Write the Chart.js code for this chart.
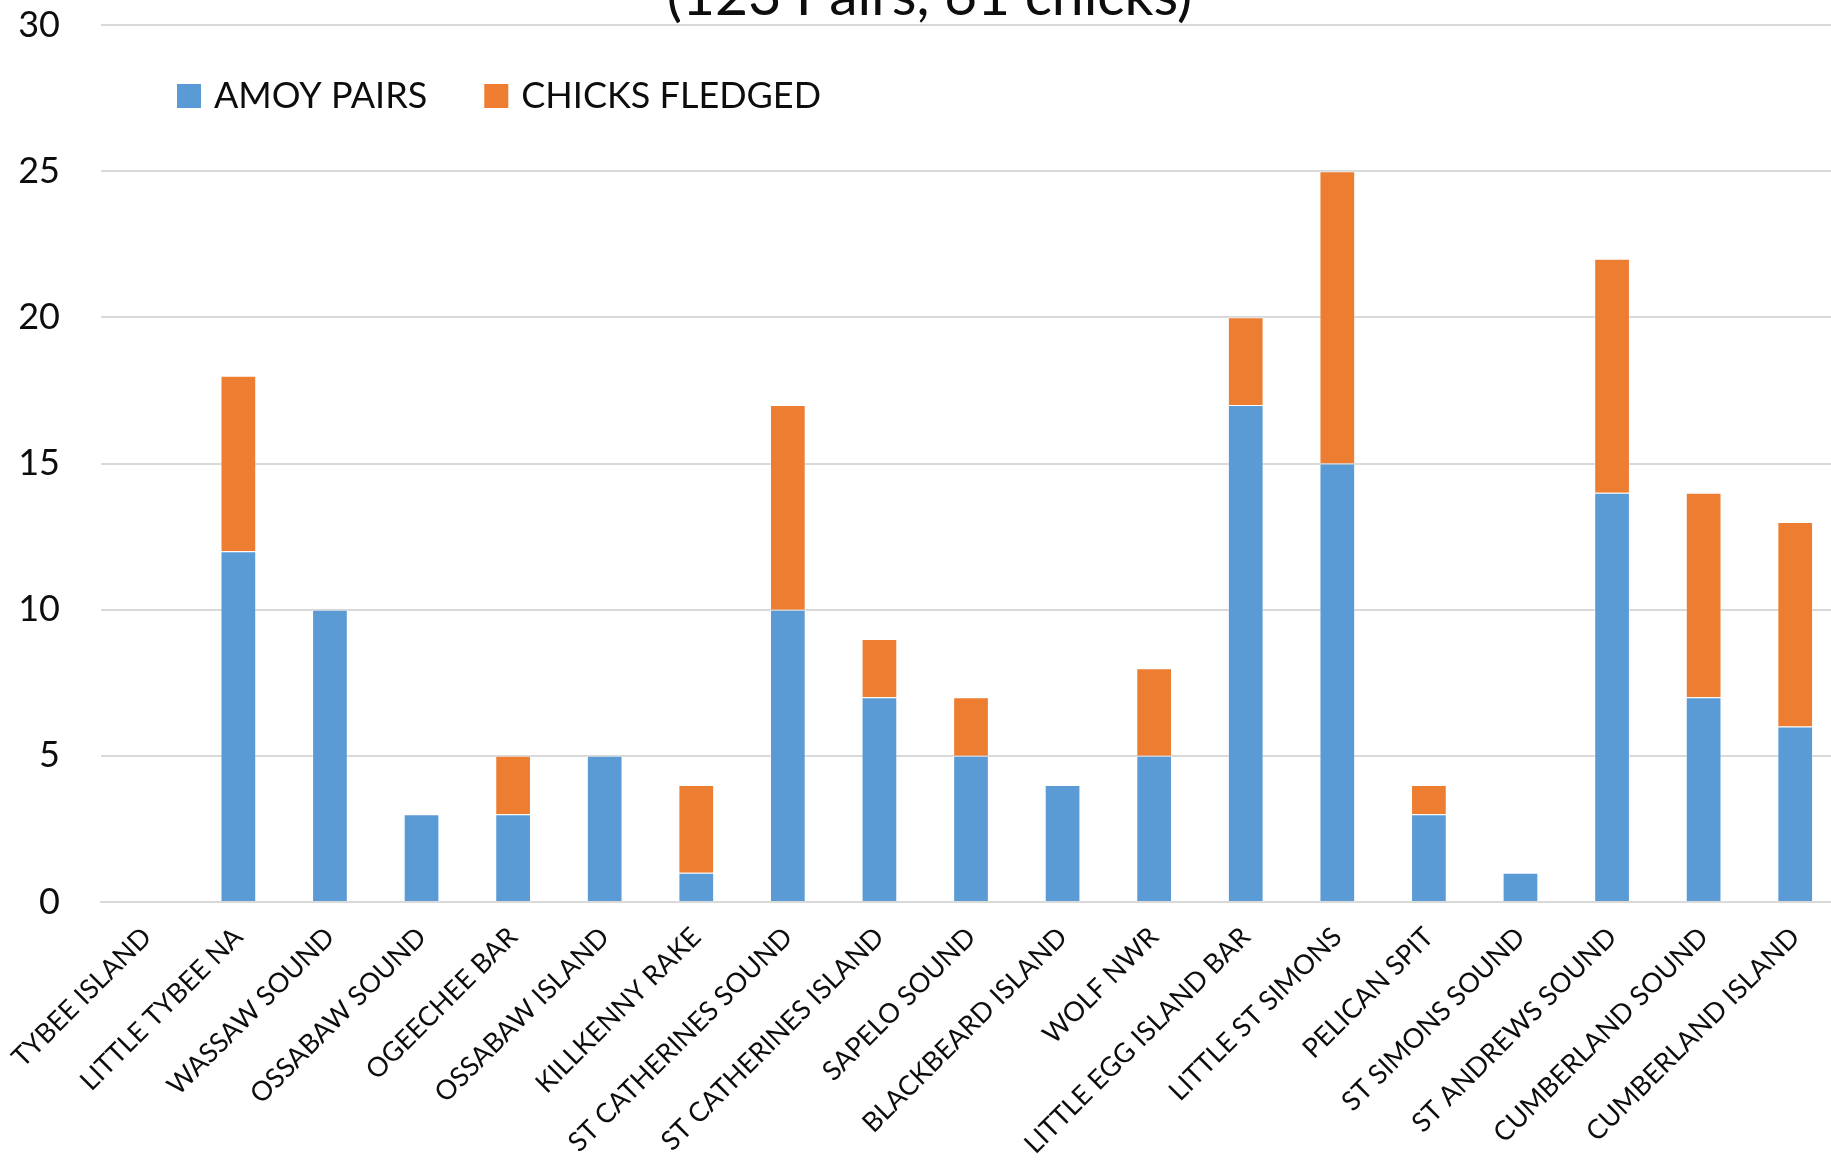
<!DOCTYPE html>
<html>
<head>
<meta charset="utf-8">
<script src="https://cdn.jsdelivr.net/npm/chart.js@4/dist/chart.umd.min.js"></script>
<style>
  html, body { margin: 0; padding: 0; background: #fff; overflow: hidden; }
  #wrap { width: 1841px; height: 1221px; margin-top: -60px; }
</style>
</head>
<body>
<div id="wrap"><canvas id="myChart" width="1841" height="1221"></canvas></div>
<script>
var sites = ["TYBEE ISLAND", "LITTLE TYBEE NA", "WASSAW SOUND", "OSSABAW SOUND", "OGEECHEE BAR",
  "OSSABAW ISLAND", "KILLKENNY RAKE", "ST CATHERINES SOUND", "ST CATHERINES ISLAND", "SAPELO SOUND",
  "BLACKBEARD ISLAND", "WOLF NWR", "LITTLE EGG ISLAND BAR", "LITTLE ST SIMONS", "PELICAN SPIT",
  "ST SIMONS SOUND", "ST ANDREWS SOUND", "CUMBERLAND SOUND", "CUMBERLAND ISLAND"]
var amoyPairs = [0, 12, 10, 3, 3, 5, 1, 10, 7, 5, 4, 5, 17, 15, 3, 1, 14, 7, 6]
var chicksFledged = [0, 6, 0, 0, 2, 0, 3, 7, 2, 2, 0, 3, 3, 10, 1, 0, 8, 7, 7]
var yTicks = [0, 5, 10, 15, 20, 25, 30]
var titleText = "(123 Pairs, 61 chicks)"

var textColor = "#0d0d0d"
Chart.defaults.font.family = "Lato, 'Open Sans', sans-serif"
Chart.defaults.color = textColor

// title sits a little right of the canvas centre in the original
var titleNudge = {
  id: 'titleNudge',
  afterLayout: function(chart) {
    chart.titleBlock.left += 18
  }
}

// legend drawn inside the plot area, one row, near the top left
var insideLegend = {
  id: 'insideLegend',
  afterDraw: function(chart) {
    var ctx = chart.ctx
    var area = chart.chartArea
    var x = area.left + 76
    var cy = area.top + 71
    ctx.save()
    ctx.font = "36px Lato, 'Open Sans', sans-serif"
    ctx.textBaseline = 'middle'
    ctx.textAlign = 'left'
    chart.data.datasets.forEach(function(ds) {
      ctx.fillStyle = ds.backgroundColor
      ctx.fillRect(x, cy - 12, 24, 24)
      ctx.fillStyle = textColor
      ctx.fillText(ds.label, x + 37, cy)
      x += 37 + ctx.measureText(ds.label).width + 57
    })
    ctx.restore()
  }
}

function renderChart() {
  var ctx = document.getElementById("myChart").getContext("2d")
  var myChart = new Chart(ctx, {
    type: 'bar',
    data: {
      labels: sites,
      datasets: [{
        label: 'AMOY PAIRS',
        data: amoyPairs,
        backgroundColor: '#5B9BD5',
        borderColor: 'rgba(255,255,255,0.35)',
        borderWidth: 1
      }, {
        label: 'CHICKS FLEDGED',
        data: chicksFledged,
        backgroundColor: '#ED7D31',
        borderColor: 'rgba(255,255,255,0.35)',
        borderWidth: 1
      }]
    },
    options: {
      responsive: false,
      animation: false,
      layout: { padding: 0 },
      datasets: { bar: { categoryPercentage: 1, barPercentage: 0.39 } },
      plugins: {
        title: {
          display: true,
          text: titleText,
          font: { size: 57, weight: 'normal', lineHeight: 1 },
          padding: { top: 28, bottom: 0 }
        },
        legend: { display: false },
        tooltip: { enabled: false }
      },
      scales: {
        x: {
          stacked: true,
          grid: { display: false },
          border: { display: true, color: '#d9d9d9', width: 2 },
          ticks: {
            autoSkip: false,
            minRotation: 45,
            maxRotation: 45,
            padding: 11,
            font: { size: 27 }
          },
          afterFit: function(scale) {
            scale.height = 259
            scale.paddingLeft = 0
            scale.paddingRight = 0
          }
        },
        y: {
          stacked: true,
          min: 0,
          max: 30,
          border: { display: false },
          grid: { color: '#d9d9d9', lineWidth: 2, drawTicks: false },
          afterBuildTicks: function(scale) {
            scale.ticks = yTicks.map(function(v) { return { value: v } })
          },
          ticks: {
            padding: 41,
            font: { size: 36 }
          },
          afterFit: function(scale) {
            scale.width = 101
            scale.paddingTop = 0
            scale.paddingBottom = 0
          }
        }
      }
    },
    plugins: [titleNudge, insideLegend]
  })
}

renderChart()
</script>
</body>
</html>
